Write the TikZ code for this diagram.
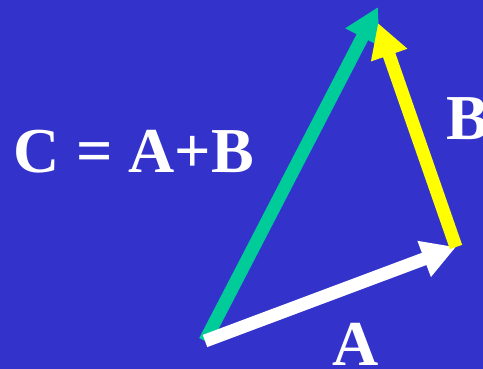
\documentclass[tikz,border=0pt]{standalone}
\usepackage{fontspec}
\setmainfont{Liberation Serif}
\usetikzlibrary{arrows.meta}
\definecolor{Bg}{RGB}{51,51,204}
\definecolor{VA}{RGB}{255,255,255}
\definecolor{VB}{RGB}{255,255,0}
\definecolor{VC}{RGB}{0,204,153}
\begin{document}
\begin{tikzpicture}[
  x=1pt, y=-1pt,
  vec/.style  = {-{Triangle[length=34pt,width=36pt]}, line width=13pt},
  veclbl/.style = {text=white, inner sep=0pt,
    font=\bfseries\fontsize{64}{64}\selectfont}
]

%% ---------- Background ----------
\fill[Bg] (0,0) rectangle (483,369);
\clip (0,0) rectangle (483,369);

%% ---------- Points ----------
\coordinate (o)  at (205,341);
\coordinate (a)  at (456,247);
\coordinate (ab) at (378,23);
\coordinate (c)  at (378,7);

%% ---------- Vectors ----------
\draw[vec, VC] (o) -- (c);
\draw[vec, VA] (o) -- (a);
\draw[vec, VB] (a) -- (ab);

%% ---------- Labels ----------
\node[veclbl] (lblC) at (134,152) {C = A+B};
\node[veclbl] (lblB) at (468,119) {B};
\node[veclbl] (lblA) at (356,344) {A};

\end{tikzpicture}
\end{document}
